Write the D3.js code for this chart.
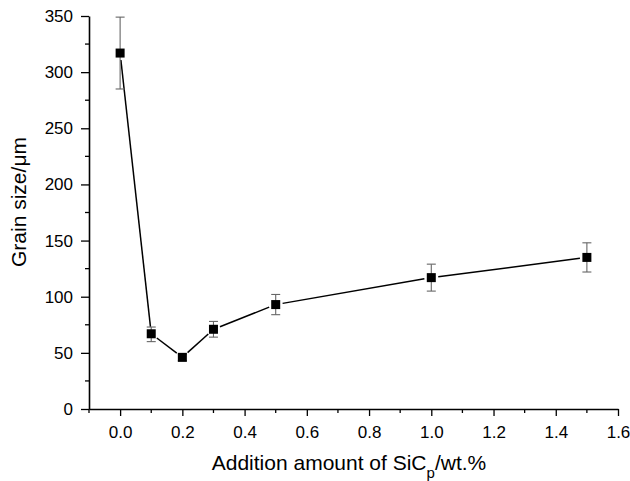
<!DOCTYPE html>
<html>
<head>
<meta charset="utf-8">
<script src="https://cdn.jsdelivr.net/npm/d3@7"></script>
<style>
  body { margin: 0; background: #fff; }
  svg { display: block; font-family: 'Liberation Sans', Arial, sans-serif; }
</style>
</head>
<body>
<div id="chart"></div>
<script>
const sicAmount = [0, 0.1, 0.2, 0.3, 0.5, 1.0, 1.5];
const grainSize = [317, 67, 46, 71, 93, 117, 135];
const errLow = [285, 60, 43, 64, 84, 105, 122];
const errHigh = [349, 73, 49, 78, 102, 129, 148];
const xTicks = [0, 0.2, 0.4, 0.6, 0.8, 1.0, 1.2, 1.4, 1.6];
const yTicks = [0, 50, 100, 150, 200, 250, 300, 350];

const width = 630;
const height = 481;
const margin = { top: 16, right: 12, bottom: 72, left: 89 };

const svg = d3.select('#chart').append('svg')
  .attr('width', width)
  .attr('height', height);

const x = d3.scaleLinear()
  .domain([-0.1, 1.6])
  .range([margin.left, width - margin.right]);

const y = d3.scaleLinear()
  .domain([0, 350])
  .range([height - margin.bottom, margin.top]);

const x0 = x.range()[0];
const y0 = y.range()[0];

// minor ticks
const xMinor = d3.range(-0.1, 1.6, 0.2);
const yMinor = d3.range(25, 350, 50);

svg.append('g')
  .selectAll('line')
  .data(xMinor)
  .join('line')
  .attr('x1', (d) => x(d)).attr('x2', (d) => x(d))
  .attr('y1', y0).attr('y2', y0 + 4)
  .attr('stroke', '#000').attr('stroke-width', 1.3);

svg.append('g')
  .selectAll('line')
  .data(yMinor)
  .join('line')
  .attr('x1', x0 - 4).attr('x2', x0)
  .attr('y1', (d) => y(d)).attr('y2', (d) => y(d))
  .attr('stroke', '#000').attr('stroke-width', 1.3);

const xAxis = svg.append('g')
  .attr('transform', `translate(0,${y0})`)
  .call(d3.axisBottom(x).tickValues(xTicks).tickFormat(d3.format('.1f'))
    .tickSize(7).tickPadding(10).tickSizeOuter(0));

const yAxis = svg.append('g')
  .attr('transform', `translate(${x0},0)`)
  .call(d3.axisLeft(y).tickValues(yTicks).tickSize(8).tickPadding(8).tickSizeOuter(0));

[xAxis, yAxis].forEach((g) => {
  g.select('.domain').attr('stroke', '#000').attr('stroke-width', 1.6);
  g.selectAll('.tick line').attr('stroke', '#000').attr('stroke-width', 1.3);
  g.selectAll('.tick text')
    .attr('fill', '#000')
    .style('font', "17px 'Liberation Sans', Arial, sans-serif");
});

const data = sicAmount.map((d, i) => ({
  x: d, y: grainSize[i], lo: errLow[i], hi: errHigh[i]
}));

// connecting line, with a small gap at each symbol
const gap = 7;
const segs = d3.pairs(data).map(([a, b]) => {
  const ax = x(a.x), ay = y(a.y), bx = x(b.x), by = y(b.y);
  const len = Math.hypot(bx - ax, by - ay);
  const ux = (bx - ax) / len, uy = (by - ay) / len;
  return [ax + ux * gap, ay + uy * gap, bx - ux * gap, by - uy * gap];
});

svg.append('g')
  .selectAll('line')
  .data(segs)
  .join('line')
  .attr('x1', (d) => d[0]).attr('y1', (d) => d[1])
  .attr('x2', (d) => d[2]).attr('y2', (d) => d[3])
  .attr('stroke', '#000').attr('stroke-width', 1.5);

// error bars
const eb = svg.append('g')
  .attr('stroke', '#666')
  .attr('stroke-width', 1.1);

eb.selectAll('.stem')
  .data(data)
  .join('line')
  .attr('class', 'stem')
  .attr('x1', (d) => x(d.x)).attr('x2', (d) => x(d.x))
  .attr('y1', (d) => y(d.lo)).attr('y2', (d) => y(d.hi));

eb.selectAll('.capHi')
  .data(data)
  .join('line')
  .attr('class', 'capHi')
  .attr('x1', (d) => x(d.x) - 4.5).attr('x2', (d) => x(d.x) + 4.5)
  .attr('y1', (d) => y(d.hi)).attr('y2', (d) => y(d.hi));

eb.selectAll('.capLo')
  .data(data)
  .join('line')
  .attr('class', 'capLo')
  .attr('x1', (d) => x(d.x) - 4.5).attr('x2', (d) => x(d.x) + 4.5)
  .attr('y1', (d) => y(d.lo)).attr('y2', (d) => y(d.lo));

// square symbols
const s = 9;
svg.append('g')
  .selectAll('rect')
  .data(data)
  .join('rect')
  .attr('x', (d) => x(d.x) - s / 2)
  .attr('y', (d) => y(d.y) - s / 2)
  .attr('width', s)
  .attr('height', s)
  .attr('fill', '#000');

// axis titles
const xt = svg.append('text')
  .attr('x', 349)
  .attr('y', 470)
  .attr('text-anchor', 'middle')
  .style('font', "21px 'Liberation Sans', Arial, sans-serif")
  .attr('fill', '#000');
xt.append('tspan').text('Addition amount of SiC');
xt.append('tspan').attr('dy', 8).style('font-size', '15px').text('p');
xt.append('tspan').attr('dy', -8).text('/wt.%');

svg.append('text')
  .attr('transform', 'translate(26,202) rotate(-90)')
  .attr('text-anchor', 'middle')
  .style('font', "21px 'Liberation Sans', Arial, sans-serif")
  .attr('fill', '#000')
  .text('Grain size/\u03bcm');
</script>
</body>
</html>
